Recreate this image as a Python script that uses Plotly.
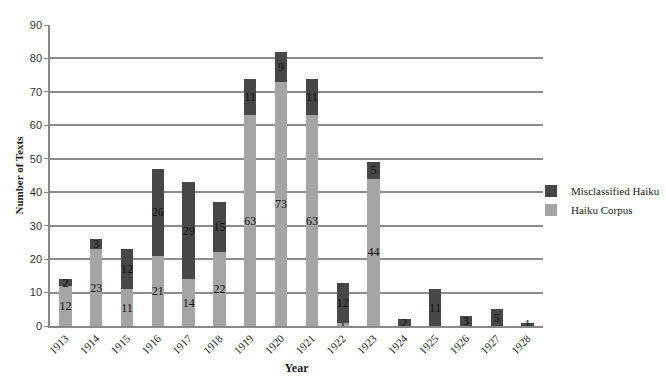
import plotly.graph_objects as go

years = ["1913", "1914", "1915", "1916", "1917", "1918", "1919", "1920",
         "1921", "1922", "1923", "1924", "1925", "1926", "1927", "1928"]
haiku_corpus = [12, 23, 11, 21, 14, 22, 63, 73, 63, 1, 44, None, None, None, None, None]
misclassified = [2, 3, 12, 26, 29, 15, 11, 9, 11, 12, 5, 2, 11, 3, 5, 1]
y_ticks = [0, 10, 20, 30, 40, 50, 60, 70, 80, 90]

serif = "Liberation Serif, Times New Roman, serif"

fig = go.Figure()
fig.add_trace(go.Bar(
    x=years, y=haiku_corpus, name="Haiku Corpus",
    marker=dict(color="#a5a5a5", line=dict(width=0)),
    text=haiku_corpus, textposition="inside", insidetextanchor="middle",
    textangle=0, constraintext="none",
    textfont=dict(family=serif, size=12, color="#111111"),
))
fig.add_trace(go.Bar(
    x=years, y=misclassified, name="Misclassified Haiku",
    marker=dict(color="#474747", line=dict(width=0)),
    text=misclassified, textposition="inside", insidetextanchor="middle",
    textangle=0, constraintext="none",
    textfont=dict(family=serif, size=12, color="#111111"),
))

fig.update_layout(
    barmode="stack",
    bargap=0.6,
    width=666, height=386,
    margin=dict(l=50, r=123, t=25, b=60, autoexpand=False),
    paper_bgcolor="white", plot_bgcolor="white",
    uniformtext=dict(minsize=12, mode="show"),
    legend=dict(
        x=0.9757, y=0.497, xanchor="left", yanchor="top",
        traceorder="reversed",
        font=dict(family=serif, size=11, color="#222222"),
        itemwidth=30, tracegroupgap=0,
        bgcolor="rgba(0,0,0,0)",
    ),
    showlegend=True,
)
fig.update_xaxes(
    type="category",
    tickangle=-45,
    tickfont=dict(family=serif, size=11, color="#222222"),
    showline=True, linecolor="#888888", linewidth=1.5,
    ticks="", showgrid=False,
    title=dict(text="<b>Year</b>", font=dict(family=serif, size=12, color="#222222"), standoff=8),
)
fig.update_yaxes(
    range=[0, 90], tickvals=y_ticks,
    tickfont=dict(family="Liberation Sans, Arial, sans-serif", size=11, color="#333333"),
    showgrid=True, gridcolor="#8c8c8c", gridwidth=1.5,
    showline=True, linecolor="#888888", linewidth=1.5,
    ticks="outside", ticklen=4, tickcolor="#888888",
    zeroline=False,
    title=dict(text="<b>Number of Texts</b>", font=dict(family=serif, size=11, color="#222222"), standoff=4),
)

fig.write_html("out.html")
